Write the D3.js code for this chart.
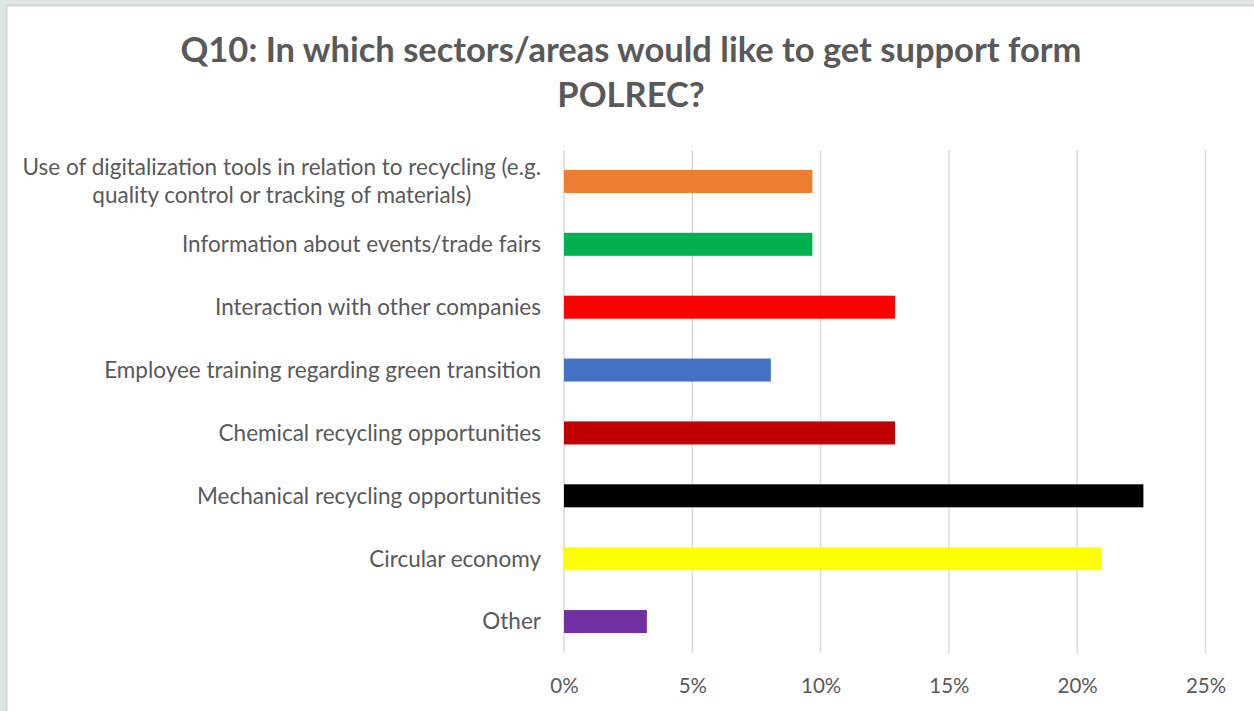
<!DOCTYPE html>
<html>
<head>
<meta charset="utf-8">
<script src="https://cdn.jsdelivr.net/npm/d3@7"></script>
<style>
  html, body { margin: 0; padding: 0; background: #dde8e4; }
  svg { display: block; }
</style>
</head>
<body>
<svg id="chart" width="1254" height="711"></svg>
<script>
// Survey answers, top to bottom as listed
const categories = [
  "Use of digitalization tools in relation to recycling (e.g.|quality control or tracking of materials)",
  "Information about events/trade fairs",
  "Interaction with other companies",
  "Employee training regarding green transition",
  "Chemical recycling opportunities",
  "Mechanical recycling opportunities",
  "Circular economy",
  "Other"
];
const shares = [0.0968, 0.0968, 0.1290, 0.0806, 0.1290, 0.2258, 0.2097, 0.0323];
const barColors = ["#ED7D31", "#00B050", "#FF0000", "#4472C4", "#C00000", "#000000", "#FFFF00", "#7030A0"];
const tickValues = [0, 0.05, 0.10, 0.15, 0.20, 0.25];
const titleLines = ["Q10: In which sectors/areas would like to get support form", "POLREC?"];

const W = 1254, H = 711;
const svg = d3.select("#chart");
const textColor = "#595959";
const font = "Lato, 'Open Sans', sans-serif";

// panel with thin border
svg.append("rect").attr("x", 6.5).attr("y", 5.5).attr("width", W).attr("height", H)
  .attr("fill", "#ffffff").attr("stroke", "#d6d6d6").attr("stroke-width", 2);

// title
svg.append("g").selectAll("text").data(titleLines).join("text")
  .attr("x", 631).attr("y", (d, i) => 50 + i * 45)
  .attr("dy", "0.35em").attr("text-anchor", "middle")
  .attr("font-family", font).attr("font-weight", "bold").attr("font-size", 34.5)
  .attr("fill", textColor).text(d => d);

const plot = { left: 564, right: 1205.5, top: 150, bottom: 653 };

const x = d3.scaleLinear().domain([0, 0.25]).range([plot.left, plot.right]);
const y = d3.scaleBand().domain(categories).range([plot.top, plot.bottom])
  .paddingInner(0.634).paddingOuter(0.317);

// vertical gridlines
svg.append("g").selectAll("line").data(tickValues).join("line")
  .attr("x1", d => x(d)).attr("x2", d => x(d))
  .attr("y1", plot.top).attr("y2", plot.bottom)
  .attr("stroke", "#d9d9d9").attr("stroke-width", 1.5);

// bars
svg.append("g").selectAll("rect").data(categories).join("rect")
  .attr("x", x(0)).attr("y", d => y(d))
  .attr("width", (d, i) => x(shares[i]) - x(0))
  .attr("height", y.bandwidth())
  .attr("fill", (d, i) => barColors[i]);

// x axis labels
const xAxis = d3.axisBottom(x).tickValues(tickValues).tickFormat(d3.format(".0%")).tickSize(0).tickPadding(0);
const gx = svg.append("g").attr("transform", `translate(0, ${plot.bottom + 33})`).call(xAxis);
gx.select(".domain").remove();
gx.selectAll("text").attr("font-family", font).attr("font-size", 20.5)
  .attr("fill", textColor).attr("dy", "0.35em").attr("y", 0);

// category labels: wrapped lines centred within a right-aligned block
const labelRight = 541, lineGap = 28;
const lg = svg.append("g");
categories.forEach(cat => {
  const lines = cat.split("|");
  const cy = y(cat) + y.bandwidth() / 2;
  const g = lg.append("g");
  const texts = g.selectAll("text").data(lines).join("text")
    .attr("y", (d, i) => cy + (i - (lines.length - 1) / 2) * lineGap)
    .attr("dy", "0.35em")
    .attr("font-family", font).attr("font-size", 22.5)
    .attr("fill", textColor).attr("text-anchor", "middle").text(d => d);
  let maxW = 0;
  texts.each(function () { maxW = Math.max(maxW, this.getComputedTextLength()); });
  texts.attr("x", labelRight - maxW / 2);
});
</script>
</body>
</html>
